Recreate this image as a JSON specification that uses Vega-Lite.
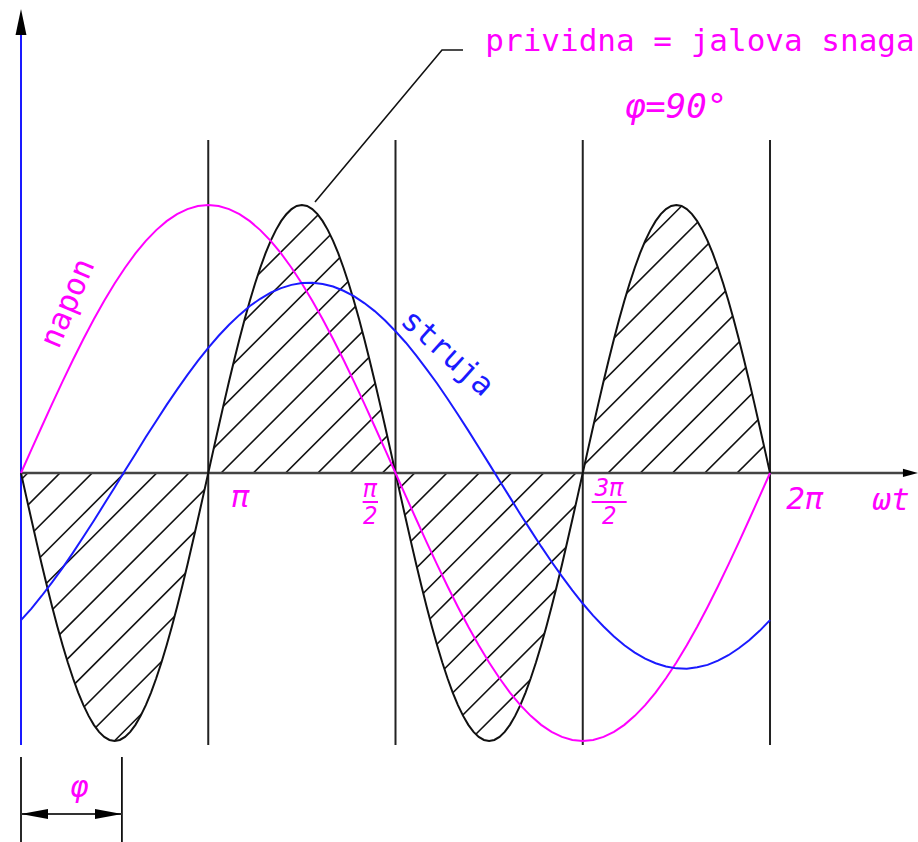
{
  "$schema": "https://vega.github.io/schema/vega-lite/v6.json",
  "width": 918,
  "height": 842,
  "autosize": "none",
  "padding": 0,
  "background": "white",
  "config": {"view": {"stroke": null}, "axis": {"disable": true}},
  "data": {"values": [{"one": 1}]},
  "datasets": {
    "curve": [
      {"x": 0, "napon": 0, "struja": -0.549},
      {"x": 5, "napon": 0.0872, "struja": -0.506},
      {"x": 10, "napon": 0.1736, "struja": -0.458},
      {"x": 15, "napon": 0.2588, "struja": -0.407},
      {"x": 20, "napon": 0.342, "struja": -0.354},
      {"x": 25, "napon": 0.4226, "struja": -0.297},
      {"x": 30, "napon": 0.5, "struja": -0.238},
      {"x": 35, "napon": 0.5736, "struja": -0.178},
      {"x": 40, "napon": 0.6428, "struja": -0.116},
      {"x": 45, "napon": 0.7071, "struja": -0.054},
      {"x": 50, "napon": 0.766, "struja": 0.009},
      {"x": 55, "napon": 0.8192, "struja": 0.071},
      {"x": 60, "napon": 0.866, "struja": 0.134},
      {"x": 65, "napon": 0.9063, "struja": 0.194},
      {"x": 70, "napon": 0.9397, "struja": 0.254},
      {"x": 75, "napon": 0.9659, "struja": 0.311},
      {"x": 80, "napon": 0.9848, "struja": 0.366},
      {"x": 85, "napon": 0.9962, "struja": 0.418},
      {"x": 90, "napon": 1, "struja": 0.467},
      {"x": 95, "napon": 0.9962, "struja": 0.512},
      {"x": 100, "napon": 0.9848, "struja": 0.553},
      {"x": 105, "napon": 0.9659, "struja": 0.59},
      {"x": 110, "napon": 0.9397, "struja": 0.623},
      {"x": 115, "napon": 0.9063, "struja": 0.65},
      {"x": 120, "napon": 0.866, "struja": 0.673},
      {"x": 125, "napon": 0.8192, "struja": 0.69},
      {"x": 130, "napon": 0.766, "struja": 0.702},
      {"x": 135, "napon": 0.7071, "struja": 0.709},
      {"x": 140, "napon": 0.6428, "struja": 0.71},
      {"x": 145, "napon": 0.5736, "struja": 0.705},
      {"x": 150, "napon": 0.5, "struja": 0.696},
      {"x": 155, "napon": 0.4226, "struja": 0.68},
      {"x": 160, "napon": 0.342, "struja": 0.66},
      {"x": 165, "napon": 0.2588, "struja": 0.634},
      {"x": 170, "napon": 0.1736, "struja": 0.604},
      {"x": 175, "napon": 0.0872, "struja": 0.569},
      {"x": 180, "napon": 0, "struja": 0.529},
      {"x": 185, "napon": -0.0872, "struja": 0.486},
      {"x": 190, "napon": -0.1736, "struja": 0.438},
      {"x": 195, "napon": -0.2588, "struja": 0.387},
      {"x": 200, "napon": -0.342, "struja": 0.334},
      {"x": 205, "napon": -0.4226, "struja": 0.277},
      {"x": 210, "napon": -0.5, "struja": 0.218},
      {"x": 215, "napon": -0.5736, "struja": 0.158},
      {"x": 220, "napon": -0.6428, "struja": 0.096},
      {"x": 225, "napon": -0.7071, "struja": 0.034},
      {"x": 230, "napon": -0.766, "struja": -0.029},
      {"x": 235, "napon": -0.8192, "struja": -0.091},
      {"x": 240, "napon": -0.866, "struja": -0.154},
      {"x": 245, "napon": -0.9063, "struja": -0.214},
      {"x": 250, "napon": -0.9397, "struja": -0.274},
      {"x": 255, "napon": -0.9659, "struja": -0.331},
      {"x": 260, "napon": -0.9848, "struja": -0.386},
      {"x": 265, "napon": -0.9962, "struja": -0.438},
      {"x": 270, "napon": -1, "struja": -0.487},
      {"x": 275, "napon": -0.9962, "struja": -0.532},
      {"x": 280, "napon": -0.9848, "struja": -0.573},
      {"x": 285, "napon": -0.9659, "struja": -0.61},
      {"x": 290, "napon": -0.9397, "struja": -0.643},
      {"x": 295, "napon": -0.9063, "struja": -0.67},
      {"x": 300, "napon": -0.866, "struja": -0.693},
      {"x": 305, "napon": -0.8192, "struja": -0.71},
      {"x": 310, "napon": -0.766, "struja": -0.722},
      {"x": 315, "napon": -0.7071, "struja": -0.729},
      {"x": 320, "napon": -0.6428, "struja": -0.73},
      {"x": 325, "napon": -0.5736, "struja": -0.725},
      {"x": 330, "napon": -0.5, "struja": -0.716},
      {"x": 335, "napon": -0.4226, "struja": -0.7},
      {"x": 340, "napon": -0.342, "struja": -0.68},
      {"x": 345, "napon": -0.2588, "struja": -0.654},
      {"x": 350, "napon": -0.1736, "struja": -0.624},
      {"x": 355, "napon": -0.0872, "struja": -0.589},
      {"x": 360, "napon": 0, "struja": -0.549}
    ],
    "power": [
      {"x": 0, "p": 0}, {"x": 2.5, "p": -0.0872}, {"x": 5, "p": -0.1736}, {"x": 7.5, "p": -0.2588}, {"x": 10, "p": -0.342}, {"x": 12.5, "p": -0.4226}, {"x": 15, "p": -0.5}, {"x": 17.5, "p": -0.5736}, {"x": 20, "p": -0.6428}, {"x": 22.5, "p": -0.7071}, {"x": 25, "p": -0.766}, {"x": 27.5, "p": -0.8192}, {"x": 30, "p": -0.866}, {"x": 32.5, "p": -0.9063}, {"x": 35, "p": -0.9397}, {"x": 37.5, "p": -0.9659}, {"x": 40, "p": -0.9848}, {"x": 42.5, "p": -0.9962}, {"x": 45, "p": -1}, {"x": 47.5, "p": -0.9962}, {"x": 50, "p": -0.9848}, {"x": 52.5, "p": -0.9659}, {"x": 55, "p": -0.9397}, {"x": 57.5, "p": -0.9063}, {"x": 60, "p": -0.866}, {"x": 62.5, "p": -0.8192}, {"x": 65, "p": -0.766}, {"x": 67.5, "p": -0.7071}, {"x": 70, "p": -0.6428}, {"x": 72.5, "p": -0.5736}, {"x": 75, "p": -0.5}, {"x": 77.5, "p": -0.4226}, {"x": 80, "p": -0.342}, {"x": 82.5, "p": -0.2588}, {"x": 85, "p": -0.1736}, {"x": 87.5, "p": -0.0872},
      {"x": 90, "p": 0}, {"x": 92.5, "p": 0.0872}, {"x": 95, "p": 0.1736}, {"x": 97.5, "p": 0.2588}, {"x": 100, "p": 0.342}, {"x": 102.5, "p": 0.4226}, {"x": 105, "p": 0.5}, {"x": 107.5, "p": 0.5736}, {"x": 110, "p": 0.6428}, {"x": 112.5, "p": 0.7071}, {"x": 115, "p": 0.766}, {"x": 117.5, "p": 0.8192}, {"x": 120, "p": 0.866}, {"x": 122.5, "p": 0.9063}, {"x": 125, "p": 0.9397}, {"x": 127.5, "p": 0.9659}, {"x": 130, "p": 0.9848}, {"x": 132.5, "p": 0.9962}, {"x": 135, "p": 1}, {"x": 137.5, "p": 0.9962}, {"x": 140, "p": 0.9848}, {"x": 142.5, "p": 0.9659}, {"x": 145, "p": 0.9397}, {"x": 147.5, "p": 0.9063}, {"x": 150, "p": 0.866}, {"x": 152.5, "p": 0.8192}, {"x": 155, "p": 0.766}, {"x": 157.5, "p": 0.7071}, {"x": 160, "p": 0.6428}, {"x": 162.5, "p": 0.5736}, {"x": 165, "p": 0.5}, {"x": 167.5, "p": 0.4226}, {"x": 170, "p": 0.342}, {"x": 172.5, "p": 0.2588}, {"x": 175, "p": 0.1736}, {"x": 177.5, "p": 0.0872},
      {"x": 180, "p": 0}, {"x": 182.5, "p": -0.0872}, {"x": 185, "p": -0.1736}, {"x": 187.5, "p": -0.2588}, {"x": 190, "p": -0.342}, {"x": 192.5, "p": -0.4226}, {"x": 195, "p": -0.5}, {"x": 197.5, "p": -0.5736}, {"x": 200, "p": -0.6428}, {"x": 202.5, "p": -0.7071}, {"x": 205, "p": -0.766}, {"x": 207.5, "p": -0.8192}, {"x": 210, "p": -0.866}, {"x": 212.5, "p": -0.9063}, {"x": 215, "p": -0.9397}, {"x": 217.5, "p": -0.9659}, {"x": 220, "p": -0.9848}, {"x": 222.5, "p": -0.9962}, {"x": 225, "p": -1}, {"x": 227.5, "p": -0.9962}, {"x": 230, "p": -0.9848}, {"x": 232.5, "p": -0.9659}, {"x": 235, "p": -0.9397}, {"x": 237.5, "p": -0.9063}, {"x": 240, "p": -0.866}, {"x": 242.5, "p": -0.8192}, {"x": 245, "p": -0.766}, {"x": 247.5, "p": -0.7071}, {"x": 250, "p": -0.6428}, {"x": 252.5, "p": -0.5736}, {"x": 255, "p": -0.5}, {"x": 257.5, "p": -0.4226}, {"x": 260, "p": -0.342}, {"x": 262.5, "p": -0.2588}, {"x": 265, "p": -0.1736}, {"x": 267.5, "p": -0.0872},
      {"x": 270, "p": 0}, {"x": 272.5, "p": 0.0872}, {"x": 275, "p": 0.1736}, {"x": 277.5, "p": 0.2588}, {"x": 280, "p": 0.342}, {"x": 282.5, "p": 0.4226}, {"x": 285, "p": 0.5}, {"x": 287.5, "p": 0.5736}, {"x": 290, "p": 0.6428}, {"x": 292.5, "p": 0.7071}, {"x": 295, "p": 0.766}, {"x": 297.5, "p": 0.8192}, {"x": 300, "p": 0.866}, {"x": 302.5, "p": 0.9063}, {"x": 305, "p": 0.9397}, {"x": 307.5, "p": 0.9659}, {"x": 310, "p": 0.9848}, {"x": 312.5, "p": 0.9962}, {"x": 315, "p": 1}, {"x": 317.5, "p": 0.9962}, {"x": 320, "p": 0.9848}, {"x": 322.5, "p": 0.9659}, {"x": 325, "p": 0.9397}, {"x": 327.5, "p": 0.9063}, {"x": 330, "p": 0.866}, {"x": 332.5, "p": 0.8192}, {"x": 335, "p": 0.766}, {"x": 337.5, "p": 0.7071}, {"x": 340, "p": 0.6428}, {"x": 342.5, "p": 0.5736}, {"x": 345, "p": 0.5}, {"x": 347.5, "p": 0.4226}, {"x": 350, "p": 0.342}, {"x": 352.5, "p": 0.2588}, {"x": 355, "p": 0.1736}, {"x": 357.5, "p": 0.0872},
      {"x": 360, "p": 0}
    ],
    "hatch": [
      {"x1": 0, "y1": -0.0252, "x2": 132.06, "y2": 1},
      {"x1": 0, "y1": -0.1455, "x2": 147.55, "y2": 1},
      {"x1": 0, "y1": -0.2658, "x2": 163.05, "y2": 1},
      {"x1": 0, "y1": -0.3861, "x2": 178.55, "y2": 1},
      {"x1": 0, "y1": -0.5064, "x2": 194.04, "y2": 1},
      {"x1": 0, "y1": -0.6267, "x2": 209.54, "y2": 1},
      {"x1": 0, "y1": -0.747, "x2": 225.03, "y2": 1},
      {"x1": 0, "y1": -0.8673, "x2": 240.53, "y2": 1},
      {"x1": 0, "y1": -0.9876, "x2": 256.03, "y2": 1},
      {"x1": 13.9, "y1": -1, "x2": 271.52, "y2": 1},
      {"x1": 29.4, "y1": -1, "x2": 287.02, "y2": 1},
      {"x1": 44.89, "y1": -1, "x2": 302.51, "y2": 1},
      {"x1": 60.39, "y1": -1, "x2": 318.01, "y2": 1},
      {"x1": 75.89, "y1": -1, "x2": 333.51, "y2": 1},
      {"x1": 91.38, "y1": -1, "x2": 349.0, "y2": 1},
      {"x1": 106.88, "y1": -1, "x2": 360, "y2": 0.9651},
      {"x1": 122.37, "y1": -1, "x2": 360, "y2": 0.8448},
      {"x1": 137.87, "y1": -1, "x2": 360, "y2": 0.7245},
      {"x1": 153.37, "y1": -1, "x2": 360, "y2": 0.6042},
      {"x1": 168.86, "y1": -1, "x2": 360, "y2": 0.4839},
      {"x1": 184.36, "y1": -1, "x2": 360, "y2": 0.3636},
      {"x1": 199.85, "y1": -1, "x2": 360, "y2": 0.2433},
      {"x1": 215.35, "y1": -1, "x2": 360, "y2": 0.123}
    ],
    "verticals": [{"x": 90}, {"x": 180}, {"x": 270}, {"x": 360}],
    "leader": [
      {"x": 141.3, "y": 1.0112, "o": 1},
      {"x": 202.35, "y": 1.5784, "o": 2},
      {"x": 212.44, "y": 1.5784, "o": 3}
    ],
    "dimlines": [{"x": 0}, {"x": 48.5}],
    "bars": [
      {"x": 164.2, "x2": 171.6, "y": -0.1082},
      {"x": 274.3, "x2": 291.1, "y": -0.1082}
    ],
    "fracs": [
      {"x": 167.9, "y": -0.0635, "t": "π"},
      {"x": 167.9, "y": -0.1655, "t": "2"},
      {"x": 282.7, "y": -0.0615, "t": "3π"},
      {"x": 282.7, "y": -0.1655, "t": "2"}
    ],
    "biglabels": [
      {"x": 105.5, "y": -0.0933, "t": "π"},
      {"x": 376.8, "y": -0.1007, "t": "2π"},
      {"x": 418.1, "y": -0.1045, "t": "ωt"}
    ]
  },
  "layer": [
    {
      "data": {"name": "hatch"},
      "mark": {"type": "rule", "color": "#111111", "strokeWidth": 1.6},
      "encoding": {
        "x": {"field": "x1", "type": "quantitative", "scale": {"domain": [-10.093, 431.13], "nice": false, "zero": false}},
        "y": {"field": "y1", "type": "quantitative", "scale": {"domain": [-1.3769, 1.7649], "nice": false, "zero": false}},
        "x2": {"field": "x2"},
        "y2": {"field": "y2"}
      }
    },
    {
      "data": {"name": "power"},
      "transform": [{"filter": "datum.p <= 0"}],
      "mark": {"type": "area", "color": "white", "opacity": 1},
      "encoding": {
        "x": {"field": "x", "type": "quantitative", "scale": {"domain": [-10.093, 431.13], "nice": false, "zero": false}},
        "y": {"field": "p", "type": "quantitative", "scale": {"domain": [-1.3769, 1.7649], "nice": false, "zero": false}},
        "y2": {"datum": -1.06}
      }
    },
    {
      "data": {"name": "power"},
      "transform": [{"filter": "datum.p >= 0"}],
      "mark": {"type": "area", "color": "white", "opacity": 1},
      "encoding": {
        "x": {"field": "x", "type": "quantitative", "scale": {"domain": [-10.093, 431.13], "nice": false, "zero": false}},
        "y": {"field": "p", "type": "quantitative", "scale": {"domain": [-1.3769, 1.7649], "nice": false, "zero": false}},
        "y2": {"datum": 1.06}
      }
    },
    {
      "data": {"name": "verticals"},
      "mark": {"type": "rule", "color": "#222222", "strokeWidth": 2},
      "encoding": {
        "x": {"field": "x", "type": "quantitative", "scale": {"domain": [-10.093, 431.13], "nice": false, "zero": false}},
        "y": {"datum": 1.2425, "type": "quantitative", "scale": {"domain": [-1.3769, 1.7649], "nice": false, "zero": false}},
        "y2": {"datum": -1.015}
      }
    },
    {
      "mark": {"type": "rule", "color": "#444444", "strokeWidth": 2.5},
      "encoding": {
        "x": {"datum": 0, "type": "quantitative", "scale": {"domain": [-10.093, 431.13], "nice": false, "zero": false}},
        "x2": {"datum": 424.5},
        "y": {"datum": 0, "type": "quantitative", "scale": {"domain": [-1.3769, 1.7649], "nice": false, "zero": false}}
      }
    },
    {
      "mark": {"type": "point", "shape": "M1,0L-1,-0.55L-1,0.55Z", "size": 225, "filled": true, "color": "black", "opacity": 1},
      "encoding": {
        "x": {"datum": 427.5, "type": "quantitative", "scale": {"domain": [-10.093, 431.13], "nice": false, "zero": false}},
        "y": {"datum": 0, "type": "quantitative", "scale": {"domain": [-1.3769, 1.7649], "nice": false, "zero": false}}
      }
    },
    {
      "mark": {"type": "rule", "color": "#1a1aff", "strokeWidth": 2},
      "encoding": {
        "x": {"datum": 0, "type": "quantitative", "scale": {"domain": [-10.093, 431.13], "nice": false, "zero": false}},
        "y": {"datum": 1.653, "type": "quantitative", "scale": {"domain": [-1.3769, 1.7649], "nice": false, "zero": false}},
        "y2": {"datum": -1.015}
      }
    },
    {
      "mark": {"type": "point", "shape": "M0,-1L0.42,1L-0.42,1Z", "size": 676, "filled": true, "color": "black", "opacity": 1},
      "encoding": {
        "x": {"datum": 0, "type": "quantitative", "scale": {"domain": [-10.093, 431.13], "nice": false, "zero": false}},
        "y": {"datum": 1.6828, "type": "quantitative", "scale": {"domain": [-1.3769, 1.7649], "nice": false, "zero": false}}
      }
    },
    {
      "data": {"name": "power"},
      "mark": {"type": "line", "color": "#111111", "strokeWidth": 2},
      "encoding": {
        "x": {"field": "x", "type": "quantitative", "scale": {"domain": [-10.093, 431.13], "nice": false, "zero": false}},
        "y": {"field": "p", "type": "quantitative", "scale": {"domain": [-1.3769, 1.7649], "nice": false, "zero": false}}
      }
    },
    {
      "data": {"name": "curve"},
      "mark": {"type": "line", "color": "#ff00ff", "strokeWidth": 2},
      "encoding": {
        "x": {"field": "x", "type": "quantitative", "scale": {"domain": [-10.093, 431.13], "nice": false, "zero": false}},
        "y": {"field": "napon", "type": "quantitative", "scale": {"domain": [-1.3769, 1.7649], "nice": false, "zero": false}}
      }
    },
    {
      "data": {"name": "curve"},
      "mark": {"type": "line", "color": "#1a1aff", "strokeWidth": 2},
      "encoding": {
        "x": {"field": "x", "type": "quantitative", "scale": {"domain": [-10.093, 431.13], "nice": false, "zero": false}},
        "y": {"field": "struja", "type": "quantitative", "scale": {"domain": [-1.3769, 1.7649], "nice": false, "zero": false}}
      }
    },
    {
      "data": {"name": "leader"},
      "mark": {"type": "line", "color": "#111111", "strokeWidth": 1.6},
      "encoding": {
        "x": {"field": "x", "type": "quantitative", "scale": {"domain": [-10.093, 431.13], "nice": false, "zero": false}},
        "y": {"field": "y", "type": "quantitative", "scale": {"domain": [-1.3769, 1.7649], "nice": false, "zero": false}},
        "order": {"field": "o"}
      }
    },
    {
      "data": {"name": "dimlines"},
      "mark": {"type": "rule", "color": "#111111", "strokeWidth": 1.8},
      "encoding": {
        "x": {"field": "x", "type": "quantitative", "scale": {"domain": [-10.093, 431.13], "nice": false, "zero": false}},
        "y": {"datum": -1.0597, "type": "quantitative", "scale": {"domain": [-1.3769, 1.7649], "nice": false, "zero": false}},
        "y2": {"datum": -1.4}
      }
    },
    {
      "mark": {"type": "rule", "color": "#333333", "strokeWidth": 2.2},
      "encoding": {
        "x": {"datum": 0, "type": "quantitative", "scale": {"domain": [-10.093, 431.13], "nice": false, "zero": false}},
        "x2": {"datum": 48.5},
        "y": {"datum": -1.2724, "type": "quantitative", "scale": {"domain": [-1.3769, 1.7649], "nice": false, "zero": false}}
      }
    },
    {
      "mark": {"type": "point", "shape": "M-1,0L1,-0.37L1,0.37Z", "size": 729, "filled": true, "color": "black", "opacity": 1},
      "encoding": {
        "x": {"datum": 6.49, "type": "quantitative", "scale": {"domain": [-10.093, 431.13], "nice": false, "zero": false}},
        "y": {"datum": -1.2724, "type": "quantitative", "scale": {"domain": [-1.3769, 1.7649], "nice": false, "zero": false}}
      }
    },
    {
      "mark": {"type": "point", "shape": "M1,0L-1,-0.37L-1,0.37Z", "size": 729, "filled": true, "color": "black", "opacity": 1},
      "encoding": {
        "x": {"datum": 42.05, "type": "quantitative", "scale": {"domain": [-10.093, 431.13], "nice": false, "zero": false}},
        "y": {"datum": -1.2724, "type": "quantitative", "scale": {"domain": [-1.3769, 1.7649], "nice": false, "zero": false}}
      }
    },
    {
      "data": {"name": "bars"},
      "mark": {"type": "rule", "color": "#ff00ff", "strokeWidth": 2},
      "encoding": {
        "x": {"field": "x", "type": "quantitative", "scale": {"domain": [-10.093, 431.13], "nice": false, "zero": false}},
        "x2": {"field": "x2"},
        "y": {"field": "y", "type": "quantitative", "scale": {"domain": [-1.3769, 1.7649], "nice": false, "zero": false}}
      }
    },
    {
      "data": {"name": "fracs"},
      "mark": {"type": "text", "color": "#ff00ff", "font": "DejaVu Sans Mono", "fontStyle": "italic", "fontSize": 24, "align": "center", "baseline": "middle"},
      "encoding": {
        "x": {"field": "x", "type": "quantitative", "scale": {"domain": [-10.093, 431.13], "nice": false, "zero": false}},
        "y": {"field": "y", "type": "quantitative", "scale": {"domain": [-1.3769, 1.7649], "nice": false, "zero": false}},
        "text": {"field": "t"}
      }
    },
    {
      "data": {"name": "biglabels"},
      "mark": {"type": "text", "color": "#ff00ff", "font": "DejaVu Sans Mono", "fontStyle": "italic", "fontSize": 31, "align": "center", "baseline": "middle"},
      "encoding": {
        "x": {"field": "x", "type": "quantitative", "scale": {"domain": [-10.093, 431.13], "nice": false, "zero": false}},
        "y": {"field": "y", "type": "quantitative", "scale": {"domain": [-1.3769, 1.7649], "nice": false, "zero": false}},
        "text": {"field": "t"}
      }
    },
    {
      "mark": {"type": "text", "color": "#ff00ff", "font": "DejaVu Sans Mono", "fontSize": 31, "align": "center", "baseline": "alphabetic"},
      "encoding": {
        "x": {"datum": 326.35, "type": "quantitative", "scale": {"domain": [-10.093, 431.13], "nice": false, "zero": false}},
        "y": {"datum": 1.5746, "type": "quantitative", "scale": {"domain": [-1.3769, 1.7649], "nice": false, "zero": false}},
        "text": {"value": "prividna = jalova snaga"}
      }
    },
    {
      "mark": {"type": "text", "color": "#ff00ff", "font": "DejaVu Sans Mono", "fontStyle": "italic", "fontSize": 34, "align": "center", "baseline": "alphabetic"},
      "encoding": {
        "x": {"datum": 314.8, "type": "quantitative", "scale": {"domain": [-10.093, 431.13], "nice": false, "zero": false}},
        "y": {"datum": 1.3246, "type": "quantitative", "scale": {"domain": [-1.3769, 1.7649], "nice": false, "zero": false}},
        "text": {"value": "φ=90°"}
      }
    },
    {
      "mark": {"type": "text", "color": "#ff00ff", "font": "DejaVu Sans Mono", "fontSize": 31, "align": "center", "baseline": "middle", "angle": -67},
      "encoding": {
        "x": {"datum": 22.83, "type": "quantitative", "scale": {"domain": [-10.093, 431.13], "nice": false, "zero": false}},
        "y": {"datum": 0.6325, "type": "quantitative", "scale": {"domain": [-1.3769, 1.7649], "nice": false, "zero": false}},
        "text": {"value": "napon"}
      }
    },
    {
      "mark": {"type": "text", "color": "#1a1aff", "font": "DejaVu Sans Mono", "fontSize": 31, "align": "center", "baseline": "middle", "angle": 42},
      "encoding": {
        "x": {"datum": 204.75, "type": "quantitative", "scale": {"domain": [-10.093, 431.13], "nice": false, "zero": false}},
        "y": {"datum": 0.4459, "type": "quantitative", "scale": {"domain": [-1.3769, 1.7649], "nice": false, "zero": false}},
        "text": {"value": "struja"}
      }
    },
    {
      "mark": {"type": "text", "color": "#ff00ff", "font": "DejaVu Sans Mono", "fontStyle": "italic", "fontSize": 30, "align": "center", "baseline": "middle"},
      "encoding": {
        "x": {"datum": 27.88, "type": "quantitative", "scale": {"domain": [-10.093, 431.13], "nice": false, "zero": false}},
        "y": {"datum": -1.1754, "type": "quantitative", "scale": {"domain": [-1.3769, 1.7649], "nice": false, "zero": false}},
        "text": {"value": "φ"}
      }
    }
  ]
}
